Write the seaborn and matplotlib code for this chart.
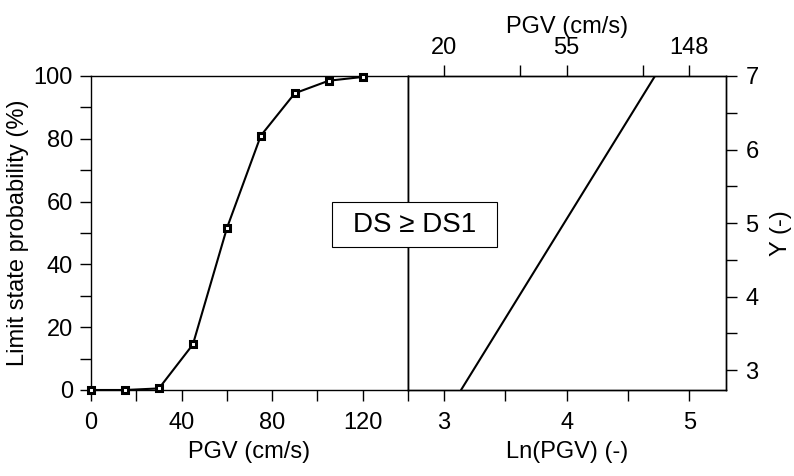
import matplotlib
matplotlib.use("Agg")
import matplotlib.pyplot as plt
from matplotlib.patches import Rectangle
import seaborn as sns
import numpy as np

# fragility curve (left panel)
pgv = [0, 15, 30, 45, 60, 75, 90, 105, 120]
prob = [0.0, 0.0, 0.5, 14.5, 51.5, 81.0, 94.5, 98.5, 99.7]

# probit line (right panel), end points
ln_pgv = [3.14, 4.72]
probit_y = [2.73, 7.0]

# top axis ticks of right panel
top_labels = ["20", "55", "148"]
top_minor = [37.5, 101.5]

sns.set_style("ticks")
plt.rcParams["font.family"] = ["Liberation Sans", "DejaVu Sans"]
plt.rcParams.update({"axes.linewidth": 1.0, "axes.edgecolor": "black",
                     "text.color": "black", "axes.labelcolor": "black",
                     "xtick.color": "black", "ytick.color": "black"})

FS = 17
W, H = 794, 476
fig = plt.figure(figsize=(W / 100, H / 100), dpi=100)
ax1 = fig.add_axes([91 / W, 86 / H, 317 / W, 314 / H])
ax2 = fig.add_axes([408 / W, 86 / H, 318 / W, 314 / H])

# left panel
sns.lineplot(x=pgv, y=prob, ax=ax1, color="black", linewidth=1.5,
             marker="s", markersize=5.0, markerfacecolor="white",
             markeredgecolor="black", markeredgewidth=2.2, clip_on=False, zorder=5)
ax1.set_xlim(0, 140)
ax1.set_ylim(0, 100)
ax1.set_xticks([0, 40, 80, 120])
ax1.set_xticks([20, 60, 100, 140], minor=True)
ax1.set_yticks(range(0, 101, 20))
ax1.set_yticks(range(10, 100, 20), minor=True)
ax1.tick_params(which="both", direction="out", length=8, width=1)
ax1.tick_params(axis="x", labelsize=FS, pad=8)
ax1.tick_params(axis="y", labelsize=FS, pad=5)
ax1.set_xlabel("PGV (cm/s)", fontsize=FS, labelpad=5)
ax1.set_ylabel("Limit state probability (%)", fontsize=FS, labelpad=3)

# right panel
sns.lineplot(x=ln_pgv, y=probit_y, ax=ax2, color="black", linewidth=1.5)
ax2.set_xlim(np.log(15), np.log(200))
ax2.set_ylim(2.73, 7)
ax2.set_xticks([3, 4, 5])
ax2.set_xticks([3.5, 4.5], minor=True)
ax2.set_yticks([3, 4, 5, 6, 7])
ax2.set_yticks([3.5, 4.5, 5.5, 6.5], minor=True)
ax2.yaxis.tick_right()
ax2.yaxis.set_label_position("right")
ax2.tick_params(which="both", direction="out", length=8, width=1)
ax2.tick_params(axis="x", labelsize=FS, pad=8)
ax2.tick_params(axis="y", labelsize=FS, pad=6)
ax2.set_xlabel("Ln(PGV) (-)", fontsize=FS, labelpad=5)
ax2.set_ylabel("Y (-)", fontsize=FS, labelpad=8)

ax3 = ax2.twiny()
ax3.set_xlim(ax2.get_xlim())
ax3.set_xticks([3, 4, 5])
ax3.set_xticklabels(top_labels)
ax3.set_xticks(np.log(top_minor), minor=True)
ax3.tick_params(which="both", direction="out", length=8, width=1)
ax3.tick_params(axis="x", labelsize=FS, pad=4)
ax3.set_xlabel("PGV (cm/s)", fontsize=FS, labelpad=3)

# damage state label box
fig.patches.append(Rectangle((332 / W, 1 - 247 / H), 165 / W, 45 / H,
                             transform=fig.transFigure, facecolor="white",
                             edgecolor="black", linewidth=0.8, zorder=10))
fig.text(414.5 / W, 1 - 225 / H, "DS ≥ DS1", fontsize=20, ha="center",
         va="center", zorder=11)

fig.savefig("out.png", dpi=100)
